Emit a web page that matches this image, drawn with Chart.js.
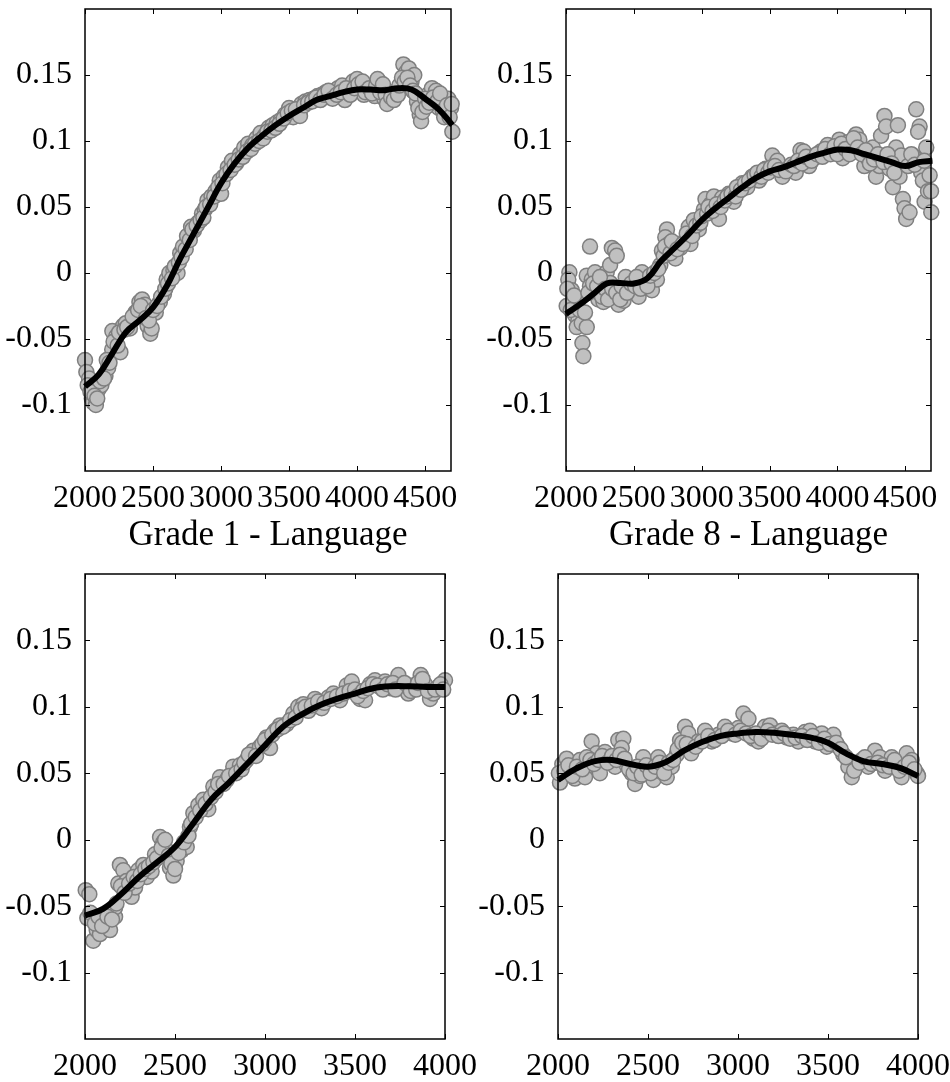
<!DOCTYPE html>
<html>
<head>
<meta charset="utf-8">
<script src="https://cdn.jsdelivr.net/npm/chart.js@4.4.1/dist/chart.umd.min.js"></script>
<style>
  body { margin: 0; background: #fff; }
  canvas { position: absolute; left: 0; top: 0; }
</style>
</head>
<body>
<canvas id="g1lang" width="950" height="1082"></canvas>
<canvas id="g8lang" width="950" height="1082"></canvas>
<canvas id="g1math" width="950" height="1082"></canvas>
<canvas id="g8math" width="950" height="1082"></canvas>
<script>
// tick values and labels
const yTicks = [-0.1, -0.05, 0, 0.05, 0.1, 0.15];
const yTickLabels = ['-0.1', '-0.05', '0', '0.05', '0.1', '0.15'];
const xTicksTop = [2000, 2500, 3000, 3500, 4000, 4500];
const xTicksBottom = [2000, 2500, 3000, 3500, 4000];

// smoothed curves
const curveXTop = [2000, 2100, 2200, 2300, 2400, 2500, 2600, 2700, 2800, 2900, 3000, 3100, 3200, 3300,
  3400, 3500, 3600, 3700, 3800, 3900, 4000, 4100, 4200, 4300, 4400, 4500, 4600, 4700];
const curveXBottom = [2000, 2100, 2200, 2300, 2400, 2500, 2600, 2700, 2800, 2900, 3000,
  3100, 3200, 3300, 3400, 3500, 3600, 3700, 3800, 3900, 4000];

const g1LangCurve = [-0.086, -0.077, -0.061, -0.045, -0.036, -0.026, -0.010, 0.011, 0.030, 0.049, 0.068, 0.083, 0.095, 0.104,
  0.112, 0.119, 0.125, 0.131, 0.134, 0.137, 0.139, 0.139, 0.1385, 0.140, 0.139, 0.132, 0.124, 0.112];
const g8LangCurve = [-0.031, -0.024, -0.016, -0.008, -0.0075, -0.008, -0.004, 0.009, 0.019, 0.029, 0.040, 0.049, 0.057, 0.065,
  0.072, 0.077, 0.080, 0.084, 0.088, 0.091, 0.0935, 0.093, 0.090, 0.087, 0.084, 0.081, 0.084, 0.085];
const g1MathCurve = [-0.057, -0.052, -0.041, -0.028, -0.017, -0.0055, 0.012, 0.030, 0.043, 0.057, 0.071,
  0.085, 0.094, 0.101, 0.106, 0.110, 0.114, 0.1155, 0.1155, 0.115, 0.115];
const g8MathCurve = [0.045, 0.0535, 0.059, 0.060, 0.057, 0.055, 0.0585, 0.067, 0.0735, 0.078, 0.080,
  0.081, 0.0805, 0.079, 0.077, 0.073, 0.065, 0.059, 0.057, 0.054, 0.048];

// scatter points
const g1LangX = [2000, 2010, 2030, 2050, 2060, 2080, 2100, 2120, 2150, 2170, 2200, 2201, 2230, 2260, 2280, 2300, 2330, 2370, 2400, 2420,
  2440, 2460, 2480, 2490, 2520, 2550, 2580, 2600, 2620, 2650, 2680, 2700, 2720, 2750, 2780, 2800, 2830, 2860, 2880, 2900,
  2930, 2960, 2990, 3020, 3050, 3080, 3110, 3140, 3170, 3200, 3230, 3260, 3290, 3320, 3350, 3380, 3410, 3440, 3470, 3500,
  3530, 3560, 3590, 3620, 3650, 3680, 3710, 3740, 3770, 3800, 3830, 3860, 3890, 3910, 3940, 3970, 4000, 4020, 4050, 4070,
  4100, 4130, 4160, 4180, 4200, 4230, 4260, 4290, 4320, 4340, 4360, 4380, 4400, 4420, 4440, 4460, 4470, 4490, 4520, 4550,
  4580, 4600, 4620, 4650, 4670, 4690, 4700,
  2020, 2040, 2070, 2090, 2110, 2140, 2160, 2180, 2210, 2240,
  2250, 2290, 2310, 2350, 2390, 2410, 2450, 2470, 2500, 2530,
  2560, 2590, 2610, 2640, 2660, 2690, 2710, 2740, 2770, 2790,
  2820, 2850, 2870, 2890, 2920, 2950, 2980, 3000, 3010, 3040,
  3070, 3100, 3130, 3160, 3190, 3220, 3250, 3280, 3310, 3340,
  3370, 3400, 3430, 3460, 3490, 3520, 3550, 3580, 3610, 3640,
  3670, 3700, 3730, 3760, 3790, 3820, 3850, 3880, 3920, 3950,
  3980, 4010, 4040, 4060, 4090, 4110, 4140, 4150, 4170, 4190,
  4210, 4220, 4250, 4270, 4300, 4310, 4330, 4350, 4370, 4390,
  4410, 4430, 4450, 4480, 4500, 4510, 4530, 4560, 4590, 4610,
  4630, 4640, 4660, 4680, 4695];
const g1LangY = [-0.066, -0.075, -0.080, -0.095, -0.098, -0.100, -0.088, -0.085, -0.078, -0.072, -0.058, -0.044, -0.048, -0.060, -0.040, -0.038, -0.042, -0.030, -0.022, -0.020,
  -0.024, -0.040, -0.046, -0.042, -0.030, -0.022, -0.016, -0.005, 0.000, 0.002, 0.000, 0.015, 0.020, 0.028, 0.035, 0.032, 0.038, 0.045, 0.048, 0.055,
  0.058, 0.062, 0.070, 0.073, 0.080, 0.085, 0.083, 0.090, 0.095, 0.098, 0.097, 0.102, 0.106, 0.104, 0.110, 0.112, 0.114, 0.116, 0.120, 0.125,
  0.118, 0.122, 0.128, 0.130, 0.131, 0.132, 0.134, 0.135, 0.137, 0.133, 0.136, 0.140, 0.142, 0.131, 0.138, 0.145, 0.147, 0.140, 0.135, 0.142,
  0.138, 0.134, 0.145, 0.140, 0.132, 0.130, 0.136, 0.138, 0.140, 0.158, 0.152, 0.155, 0.145, 0.150, 0.130, 0.120, 0.115, 0.128, 0.135, 0.140,
  0.138, 0.125, 0.130, 0.120, 0.132, 0.125, 0.107,
  -0.085, -0.090, -0.093, -0.095, -0.082, -0.080, -0.066, -0.068, -0.052, -0.055,
  -0.045, -0.043, -0.041, -0.033, -0.028, -0.025, -0.034, -0.036, -0.028, -0.025,
  -0.018, -0.012, -0.008, -0.004, 0.005, 0.008, 0.012, 0.018, 0.025, 0.033,
  0.036, 0.040, 0.042, 0.050, 0.052, 0.058, 0.065, 0.060, 0.068, 0.075,
  0.078, 0.082, 0.086, 0.088, 0.092, 0.094, 0.098, 0.100, 0.102, 0.107,
  0.108, 0.110, 0.113, 0.117, 0.121, 0.123, 0.124, 0.119, 0.127, 0.129,
  0.130, 0.133, 0.131, 0.135, 0.138, 0.132, 0.135, 0.137, 0.140, 0.135,
  0.140, 0.143, 0.145, 0.137, 0.140, 0.136, 0.142, 0.147, 0.137, 0.143,
  0.135, 0.128, 0.133, 0.131, 0.135, 0.142, 0.148, 0.145, 0.148, 0.142,
  0.138, 0.136, 0.125, 0.122, 0.132, 0.126, 0.129, 0.133, 0.130, 0.136,
  0.123, 0.118, 0.127, 0.118, 0.128];

const g8LangX = [2025, 2017, 2042, 2005, 2054, 2067, 2091, 2079, 2116, 2153, 2121, 2128, 2177, 2153, 2190, 2214, 2177, 2214, 2239, 2276,
  2300, 2325, 2338, 2362, 2374, 2325, 2350, 2387, 2424, 2461, 2498, 2535, 2560, 2584, 2633, 2670, 2695, 2707, 2744, 2732,
  2757, 2794, 2806, 2843, 2880, 2917, 2905, 2942, 2979, 3016, 3028, 3065, 3090, 3127, 3151, 3200, 3237, 3274, 3299, 3336,
  3373, 3422, 3472, 3521, 3558, 3595, 3644, 3693, 3728, 3752, 3792, 3829, 3878, 3928, 3965, 4014, 4039, 4076, 4113, 4138,
  4162, 4199, 4224, 4261, 4285, 4322, 4347, 4359, 4310, 4384, 4409, 4446, 4433, 4470, 4458, 4483, 4495, 4507, 4532, 4557,
  4581, 4606, 4618, 4630, 4643, 4668, 4655, 4692, 4690,
  2010, 2035, 2060, 2100, 2140, 2165, 2200, 2230, 2250, 2265,
  2290, 2310, 2340, 2370, 2400, 2410, 2440, 2450, 2480, 2510,
  2520, 2550, 2600, 2620, 2650, 2680, 2720, 2730, 2770, 2780,
  2820, 2860, 2890, 2930, 2960, 2990, 3000, 3040, 3050, 3080,
  3110, 3140, 3170, 3190, 3220, 3250, 3260, 3290, 3320, 3350,
  3390, 3410, 3440, 3460, 3490, 3510, 3540, 3570, 3620, 3660,
  3680, 3710, 3740, 3770, 3810, 3850, 3890, 3910, 3950, 3980,
  4000, 4030, 4060, 4090, 4120, 4150, 4180, 4210, 4240, 4270,
  4300, 4340, 4370, 4400, 4420, 4520, 4545, 4570, 4595, 4640,
  4680];
const g8LangY = [0.0005, -0.005, -0.013, -0.025, -0.021, -0.032, -0.036, -0.041, -0.038, -0.041, -0.053, -0.063, 0.020, -0.002, -0.005, 0.0005, -0.010, -0.016, -0.020, -0.022,
  0.0005, 0.006, 0.019, 0.017, 0.013, -0.0075, -0.018, -0.024, -0.021, -0.005, -0.013, -0.018, 0.0005, -0.0075, -0.013, -0.005, 0.006, 0.017, 0.033, 0.027,
  0.022, 0.014, 0.011, 0.019, 0.025, 0.022, 0.035, 0.040, 0.033, 0.048, 0.056, 0.052, 0.058, 0.041, 0.057, 0.060, 0.054, 0.062, 0.068, 0.065,
  0.073, 0.070, 0.079, 0.089, 0.085, 0.073, 0.079, 0.076, 0.093, 0.092, 0.081, 0.087, 0.092, 0.097, 0.092, 0.101, 0.087, 0.099, 0.092, 0.105,
  0.101, 0.081, 0.087, 0.095, 0.073, 0.104, 0.119, 0.111, 0.081, 0.079, 0.065, 0.112, 0.095, 0.089, 0.073, 0.056, 0.049, 0.041, 0.046, 0.089,
  0.124, 0.111, 0.076, 0.070, 0.054, 0.062, 0.095, 0.046, 0.062,
  -0.012, -0.028, -0.017, -0.028, -0.030, -0.015, -0.008, -0.010, -0.003, -0.018,
  -0.012, -0.020, -0.012, -0.015, -0.020, -0.010, -0.003, -0.015, -0.008, -0.010,
  -0.003, -0.012, -0.010, -0.002, 0.000, 0.003, 0.013, 0.020, 0.015, 0.024,
  0.018, 0.022, 0.030, 0.028, 0.036, 0.038, 0.043, 0.045, 0.050, 0.047,
  0.052, 0.050, 0.055, 0.058, 0.060, 0.058, 0.065, 0.063, 0.068, 0.070,
  0.074, 0.076, 0.073, 0.078, 0.076, 0.080, 0.081, 0.078, 0.077, 0.082,
  0.081, 0.085, 0.083, 0.088, 0.085, 0.090, 0.088, 0.094, 0.090, 0.096,
  0.090, 0.098, 0.094, 0.090, 0.102, 0.095, 0.090, 0.093, 0.083, 0.086,
  0.090, 0.084, 0.090, 0.083, 0.076, 0.081, 0.090, 0.082, 0.107, 0.085,
  0.074];

const g1MathX = [2004, 2024, 2013, 2046, 2065, 2083, 2111, 2139, 2167, 2167, 2194, 2213, 2185, 2231, 2259, 2278, 2296, 2324, 2343, 2370,
  2389, 2417, 2435, 2454, 2472, 2491, 2509, 2537, 2565, 2583, 2602, 2630, 2657, 2685, 2713, 2750, 2787, 2824, 2861, 2898,
  2935, 2972, 3009, 3028, 3056, 3083, 3120, 3157, 3185, 3213, 3241, 3278, 3315, 3352, 3380, 3417, 3454, 3482, 3528, 3556,
  3584, 3611, 3639, 3667, 3695, 3741, 3759, 3796, 3824, 3865, 3889, 3917, 3935, 3963, 4000,
  2030, 2055, 2075, 2095, 2125, 2150, 2175, 2200, 2220, 2245,
  2270, 2290, 2310, 2335, 2355, 2380, 2400, 2425, 2445, 2465,
  2480, 2500, 2520, 2550, 2575, 2590, 2615, 2640, 2670, 2700,
  2725, 2740, 2770, 2800, 2840, 2870, 2885, 2910, 2950, 2985,
  3000, 3040, 3070, 3100, 3140, 3170, 3200, 3225, 3260, 3295,
  3330, 3365, 3400, 3435, 3470, 3500, 3515, 3545, 3570, 3600,
  3625, 3655, 3680, 3710, 3725, 3775, 3810, 3840, 3850, 3875,
  3905, 3945, 3975, 3990];
const g1MathY = [-0.038, -0.041, -0.059, -0.076, -0.068, -0.071, -0.061, -0.068, -0.058, -0.051, -0.019, -0.023, -0.033, -0.031, -0.043, -0.036, -0.023, -0.019, -0.028, -0.024,
  -0.011, 0.002, -0.002, -0.008, -0.021, -0.027, -0.016, -0.008, -0.0055, 0.0095, 0.020, 0.026, 0.030, 0.023, 0.040, 0.047, 0.045, 0.055, 0.056, 0.060,
  0.067, 0.070, 0.077, 0.069, 0.082, 0.086, 0.087, 0.095, 0.100, 0.102, 0.097, 0.106, 0.099, 0.107, 0.110, 0.105, 0.116, 0.119, 0.106, 0.105,
  0.117, 0.120, 0.115, 0.119, 0.114, 0.124, 0.114, 0.110, 0.116, 0.124, 0.117, 0.106, 0.110, 0.115, 0.120,
  -0.055, -0.063, -0.058, -0.065, -0.058, -0.060, -0.048, -0.035, -0.040, -0.033,
  -0.028, -0.031, -0.026, -0.022, -0.020, -0.017, -0.014, -0.006, 0.000, -0.012,
  -0.018, -0.022, -0.010, -0.002, 0.003, 0.012, 0.017, 0.022, 0.027, 0.032,
  0.036, 0.042, 0.042, 0.048, 0.050, 0.053, 0.058, 0.064, 0.063, 0.072,
  0.075, 0.079, 0.083, 0.085, 0.090, 0.092, 0.098, 0.100, 0.101, 0.104,
  0.103, 0.106, 0.108, 0.110, 0.112, 0.113, 0.108, 0.112, 0.114, 0.117,
  0.116, 0.113, 0.117, 0.118, 0.113, 0.118, 0.112, 0.113, 0.118, 0.121,
  0.112, 0.113, 0.117, 0.113];

const g8MathX = [2011, 2024, 2048, 2067, 2094, 2122, 2150, 2168, 2187, 2215, 2233, 2261, 2289, 2317, 2335, 2363, 2354, 2382, 2409, 2428,
  2456, 2474, 2502, 2530, 2557, 2576, 2604, 2632, 2659, 2678, 2706, 2724, 2752, 2780, 2817, 2854, 2891, 2928, 2965, 3002,
  3030, 3058, 3085, 3113, 3150, 3178, 3206, 3243, 3270, 3307, 3335, 3372, 3400, 3428, 3465, 3493, 3530, 3558, 3585, 3613,
  3632, 3659, 3687, 3724, 3761, 3789, 3817, 3854, 3882, 3909, 3937, 3965, 3993, 4000,
  2005, 2035, 2058, 2080, 2105, 2135, 2160, 2180, 2200, 2225,
  2245, 2275, 2300, 2325, 2345, 2370, 2395, 2420, 2440, 2465,
  2490, 2515, 2540, 2565, 2590, 2615, 2640, 2665, 2690, 2715,
  2740, 2765, 2800, 2835, 2870, 2910, 2945, 2985, 3015, 3045,
  3070, 3100, 3130, 3165, 3190, 3225, 3255, 3290, 3320, 3355,
  3385, 3415, 3450, 3480, 3510, 3545, 3570, 3600, 3645, 3675,
  3705, 3740, 3775, 3805, 3840, 3870, 3895, 3925, 3950, 3980];
const g8MathY = [0.043, 0.057, 0.061, 0.051, 0.046, 0.060, 0.047, 0.056, 0.074, 0.065, 0.050, 0.066, 0.062, 0.055, 0.075, 0.076, 0.069, 0.056, 0.050, 0.042,
  0.048, 0.062, 0.052, 0.045, 0.062, 0.051, 0.047, 0.055, 0.064, 0.075, 0.085, 0.080, 0.069, 0.074, 0.082, 0.074, 0.079, 0.085, 0.080, 0.084,
  0.095, 0.091, 0.076, 0.074, 0.085, 0.086, 0.080, 0.082, 0.077, 0.079, 0.074, 0.081, 0.082, 0.074, 0.080, 0.070, 0.079, 0.070, 0.064, 0.055,
  0.047, 0.057, 0.060, 0.055, 0.067, 0.062, 0.052, 0.062, 0.055, 0.047, 0.065, 0.060, 0.050, 0.048,
  0.050, 0.052, 0.056, 0.048, 0.055, 0.053, 0.062, 0.060, 0.057, 0.060,
  0.063, 0.058, 0.063, 0.060, 0.064, 0.061, 0.053, 0.050, 0.055, 0.049,
  0.056, 0.050, 0.055, 0.058, 0.050, 0.058, 0.060, 0.068, 0.073, 0.072,
  0.065, 0.070, 0.074, 0.078, 0.075, 0.078, 0.082, 0.079, 0.082, 0.080,
  0.078, 0.080, 0.076, 0.082, 0.079, 0.078, 0.080, 0.076, 0.077, 0.078,
  0.075, 0.078, 0.073, 0.076, 0.072, 0.073, 0.068, 0.062, 0.052, 0.058,
  0.062, 0.057, 0.058, 0.056, 0.055, 0.060, 0.052, 0.055, 0.058, 0.053];

const FONT = "'Liberation Serif', 'DejaVu Serif', serif";
const W = 950, H = 1082;

// frame + inward ticks drawn from the scales
const frameTicks = {
  id: 'frameTicks',
  afterDatasetsDraw(chart) {
    const { ctx, chartArea: a, scales: { x, y } } = chart;
    ctx.save();
    ctx.strokeStyle = '#000';
    ctx.lineWidth = 1;
    ctx.beginPath();
    x.ticks.forEach(t => {
      const px = Math.round(x.getPixelForValue(t.value)) + 0.5;
      ctx.moveTo(px, a.bottom); ctx.lineTo(px, a.bottom - 5);
      ctx.moveTo(px, a.top); ctx.lineTo(px, a.top + 5);
    });
    y.ticks.forEach(t => {
      const py = Math.round(y.getPixelForValue(t.value)) + 0.5;
      ctx.moveTo(a.left, py); ctx.lineTo(a.left + 5, py);
      ctx.moveTo(a.right, py); ctx.lineTo(a.right - 5, py);
    });
    ctx.stroke();
    ctx.lineWidth = 1.5;
    ctx.strokeRect(a.left, a.top, a.right - a.left, a.bottom - a.top);
    ctx.restore();
  }
};

function makePanel(id, frame, yw, xh, xMax, xTicks, title, sx, sy, cx, cy) {
  const points = sx.map((x, i) => ({ x: x, y: sy[i] }));
  const curve = cx.map((x, i) => ({ x: x, y: cy[i] }));
  new Chart(document.getElementById(id), {
    type: 'scatter',
    data: {
      datasets: [
        {
          data: curve,
          showLine: true,
          borderColor: '#000',
          borderWidth: 6,
          pointRadius: 0,
          tension: 0.4,
          clip: false
        },
        {
          data: points,
          pointRadius: 7.5,
          pointBackgroundColor: '#c0c0c0',
          pointBorderColor: '#7f7f7f',
          pointBorderWidth: 1.5,
          clip: false
        }
      ]
    },
    options: {
      responsive: false,
      animation: false,
      devicePixelRatio: 1,
      layout: {
        padding: { left: frame.l - yw, top: frame.t, right: W - frame.r, bottom: H - frame.b - xh }
      },
      plugins: { legend: { display: false }, tooltip: { enabled: false } },
      scales: {
        x: {
          type: 'linear',
          min: 2000,
          max: xMax,
          grid: { display: false },
          border: { display: false },
          afterBuildTicks: s => { s.ticks = xTicks.map(v => ({ value: v })); },
          afterFit: s => { s.height = xh; s.paddingLeft = 0; s.paddingRight = 0; },
          ticks: {
            color: '#000',
            padding: 0,
            maxRotation: 0,
            autoSkip: false,
            font: { family: FONT, size: 32 },
            callback: v => String(v)
          },
          title: {
            display: !!title,
            text: title,
            color: '#000',
            font: { family: FONT, size: 35, lineHeight: 1.2 },
            padding: { top: 0, bottom: 10 }
          }
        },
        y: {
          type: 'linear',
          min: -0.15,
          max: 0.2,
          grid: { display: false },
          border: { display: false },
          afterBuildTicks: s => { s.ticks = yTicks.map(v => ({ value: v })); },
          afterFit: s => { s.width = yw; s.paddingTop = 0; s.paddingBottom = 0; },
          ticks: {
            color: '#000',
            padding: 5,
            autoSkip: false,
            font: { family: FONT, size: 32 },
            callback: v => yTickLabels[yTicks.indexOf(v)]
          }
        }
      }
    },
    plugins: [frameTicks]
  });
}

makePanel('g1lang', { l: 85, r: 451, t: 6, b: 471 }, 85, 96, 4690, xTicksTop, 'Grade 1 - Language',
  g1LangX, g1LangY, curveXTop, g1LangCurve);
makePanel('g8lang', { l: 566, r: 931, t: 6, b: 471 }, 91, 96, 4690, xTicksTop, 'Grade 8 - Language',
  g8LangX, g8LangY, curveXTop, g8LangCurve);
makePanel('g1math', { l: 85, r: 445, t: 574, b: 1039 }, 85, 43, 4000, xTicksBottom, '',
  g1MathX, g1MathY, curveXBottom, g1MathCurve);
makePanel('g8math', { l: 558, r: 918, t: 574, b: 1039 }, 83, 43, 4000, xTicksBottom, '',
  g8MathX, g8MathY, curveXBottom, g8MathCurve);
</script>
</body>
</html>
